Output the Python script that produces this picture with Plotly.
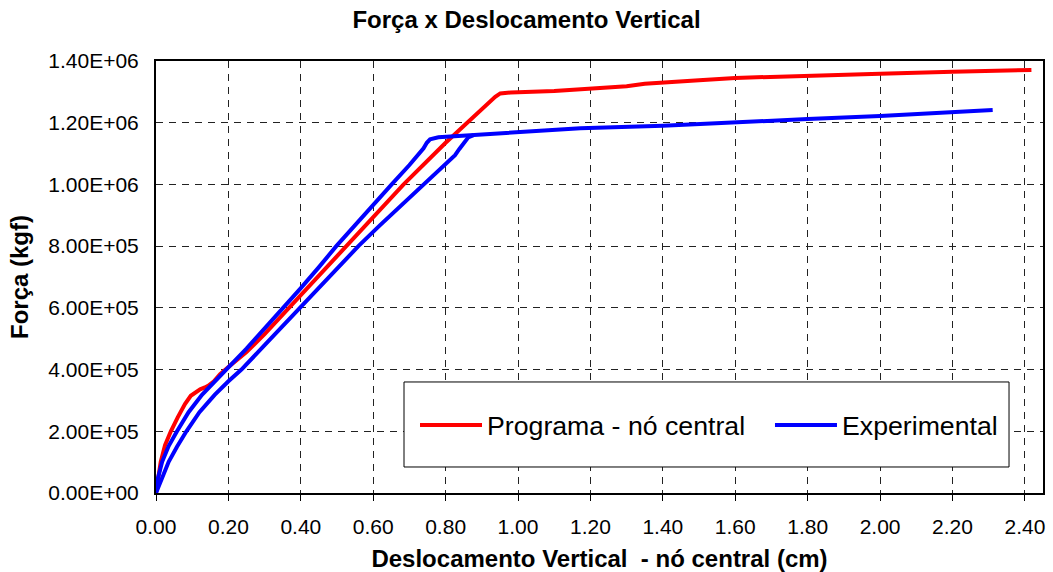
import plotly.graph_objects as go

# ---- data (force in kgf, displacement in cm) ----
red_x = [0, 0.006, 0.013, 0.025, 0.041, 0.06, 0.08, 0.096, 0.11, 0.122, 0.135, 0.145, 0.16,
         0.177, 0.2, 0.25, 0.3, 0.367, 0.44, 0.522, 0.60, 0.684, 0.80, 0.90, 0.937, 0.951,
         0.98, 1.1, 1.172, 1.25, 1.3, 1.35, 1.4, 1.5, 1.6, 1.8, 2.0, 2.2, 2.418]
red_y = [0, 0.047e6, 0.101e6, 0.155e6, 0.2e6, 0.245e6, 0.288e6, 0.315e6, 0.328e6, 0.336e6,
         0.342e6, 0.348e6, 0.362e6, 0.385e6, 0.408e6, 0.457e6, 0.515e6, 0.6e6, 0.692e6,
         0.797e6, 0.895e6, 1.0e6, 1.135e6, 1.245e6, 1.284e6, 1.295e6, 1.298e6, 1.303e6,
         1.308e6, 1.313e6, 1.318e6, 1.326e6, 1.331e6, 1.338e6, 1.345e6, 1.353e6, 1.359e6,
         1.365e6, 1.371e6]

exp_upper_x = [0, 0.005, 0.017, 0.035, 0.058, 0.09, 0.127, 0.16, 0.2, 0.25, 0.3, 0.352,
               0.40, 0.45, 0.498, 0.55, 0.60, 0.651, 0.70, 0.730, 0.739, 0.748, 0.757, 0.78,
               0.877, 1.0, 1.172, 1.4, 1.6, 1.8, 2.0, 2.2, 2.311]
exp_upper_y = [0, 0.047e6, 0.101e6, 0.152e6, 0.2e6, 0.262e6, 0.318e6, 0.36e6, 0.407e6,
               0.468e6, 0.532e6, 0.6e6, 0.664e6, 0.732e6, 0.8e6, 0.868e6, 0.935e6, 1.0e6,
               1.063e6, 1.101e6, 1.117e6, 1.135e6, 1.146e6, 1.153e6, 1.160e6, 1.168e6,
               1.182e6, 1.19e6, 1.202e6, 1.212e6, 1.222e6, 1.235e6, 1.241e6]

exp_lower_x = [0, 0.016, 0.035, 0.058, 0.084, 0.12, 0.162, 0.2, 0.236, 0.3, 0.35, 0.395,
               0.45, 0.5, 0.559, 0.619, 0.68, 0.739, 0.79, 0.826, 0.838, 0.849, 0.862, 0.877]
exp_lower_y = [0, 0.047e6, 0.101e6, 0.15e6, 0.2e6, 0.262e6, 0.318e6, 0.362e6, 0.4e6,
               0.479e6, 0.541e6, 0.597e6, 0.665e6, 0.727e6, 0.8e6, 0.868e6, 0.935e6, 1.0e6,
               1.055e6, 1.095e6, 1.115e6, 1.133e6, 1.152e6, 1.160e6]

x_tickvals = [0.0, 0.2, 0.4, 0.6, 0.8, 1.0, 1.2, 1.4, 1.6, 1.8, 2.0, 2.2, 2.4]
y_tickvals = [0, 2e5, 4e5, 6e5, 8e5, 1.0e6, 1.2e6, 1.4e6]
y_ticktext = ["0.00E+00", "2.00E+05", "4.00E+05", "6.00E+05", "8.00E+05",
              "1.00E+06", "1.20E+06", "1.40E+06"]

FONT = "Arial, Liberation Sans, sans-serif"

fig = go.Figure()
fig.add_trace(go.Scatter(x=red_x, y=red_y, mode="lines", name="Programa - nó central",
                         line=dict(color="#FF0000", width=4), legend="legend"))
fig.add_trace(go.Scatter(x=exp_upper_x, y=exp_upper_y, mode="lines", name="Experimental",
                         line=dict(color="#0000FF", width=4), legend="legend2",
                         legendgroup="e"))
fig.add_trace(go.Scatter(x=exp_lower_x, y=exp_lower_y, mode="lines", name="Experimental",
                         line=dict(color="#0000FF", width=4), legend="legend2",
                         legendgroup="e", showlegend=False))

# legend frame
fig.add_shape(type="rect", xref="paper", yref="paper",
              x0=0.2796, x1=0.9617, y0=0.0602, y1=0.257,
              line=dict(color="black", width=1), fillcolor="white", layer="above")

legend_common = dict(orientation="h", xanchor="left", y=0.157, yanchor="middle",
                     bgcolor="rgba(0,0,0,0)", borderwidth=0,
                     font=dict(size=26.7, family=FONT), itemwidth=62)

fig.update_layout(
    width=1053, height=572,
    margin=dict(l=156, r=10, t=61, b=79),
    paper_bgcolor="white", plot_bgcolor="white",
    font=dict(family=FONT, color="black", size=21),
    title=dict(text="<b>Força x Deslocamento Vertical</b>", x=0.5, xanchor="center",
               y=0.965, yanchor="middle", font=dict(size=24, family=FONT)),
    showlegend=True,
    legend=dict(x=0.292, **legend_common),
    legend2=dict(x=0.6922, **legend_common),
    xaxis=dict(range=[0, 2.45], tickvals=x_tickvals, tickformat=".2f",
               showline=True, linecolor="black", linewidth=2, mirror=True,
               ticks="outside", ticklen=6, tickcolor="black", tickwidth=1,
               ticklabelstandoff=8, automargin=False,
               showgrid=True, gridcolor="#222", gridwidth=1, griddash="7px,6px",
               zeroline=False,
               title=dict(text="<b>Deslocamento Vertical  - nó central (cm)</b>",
                          font=dict(size=24, family=FONT), standoff=13)),
    yaxis=dict(range=[0, 1.4e6], tickvals=y_tickvals, ticktext=y_ticktext,
               showline=True, linecolor="black", linewidth=2, mirror=True,
               ticks="", ticklabelstandoff=11, automargin=False,
               showgrid=True, gridcolor="#222", gridwidth=1, griddash="7px,6px",
               zeroline=False,
               title=dict(text="<b>Força (kgf)</b>", font=dict(size=24, family=FONT),
                          standoff=13)),
)

fig.write_html("out.html")
